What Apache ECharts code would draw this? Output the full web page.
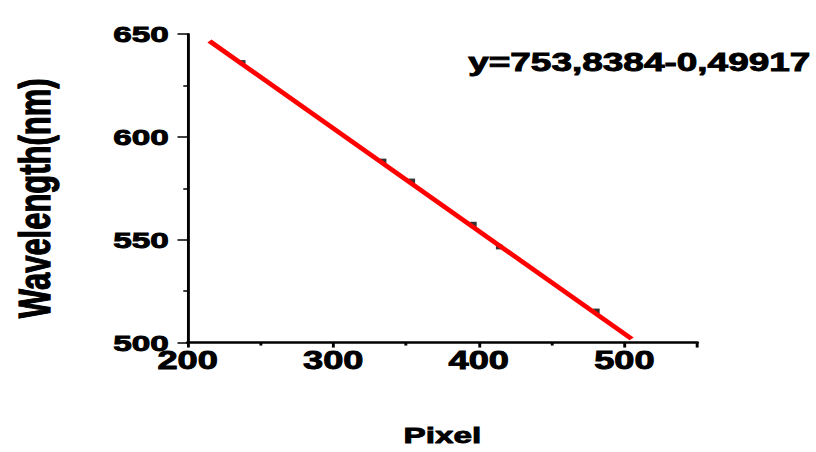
<!DOCTYPE html>
<html>
<head>
<meta charset="utf-8">
<script src="https://cdn.jsdelivr.net/npm/echarts@6/dist/echarts.min.js"></script>
<style>
  html, body { margin: 0; padding: 0; background: #fff; overflow: hidden; }
  #wrap { width: 816px; height: 452px; overflow: hidden; }
  /* the plot is laid out narrow and stretched horizontally */
  #chart { width: 563px; height: 452px; transform: scaleX(1.4494); transform-origin: 0 0; }
</style>
</head>
<body>
<div id="wrap"><div id="chart"></div></div>
<script>
// Calibration points: detector pixel vs. known wavelength (nm)
const pixels = [237.5, 334.3, 354.0, 396.3, 414.0, 480.8];
const wavelengths = [636.1, 588.2, 578.5, 557.5, 546.5, 515.3];

// Endpoints of the fitted straight line
const fitPixels = [215, 505];
const fitWavelengths = [646.6, 501.8];

const fitLabel = 'y=753,8384-0,49917';
const xTitle = 'Pixel';
const yTitle = 'Wavelength(nm)';

const FONT = '"Liberation Sans", Arial, Helvetica, sans-serif';
// heavy black lettering: bold face plus a thin outline of the same colour
const heavy = { fontFamily: FONT, fontWeight: 'bold', color: '#000', textBorderColor: '#000', textBorderWidth: 0.9 };

const chart = echarts.init(document.getElementById('chart'), null, { renderer: 'svg' });

chart.setOption({
  animation: false,
  backgroundColor: '#ffffff',
  grid: { left: 127, right: 82, top: 34, bottom: 105, containLabel: false },
  xAxis: {
    type: 'value',
    min: 200, max: 550, interval: 100,
    name: xTitle,
    nameLocation: 'middle',
    nameGap: 81,
    nameTextStyle: Object.assign({ fontSize: 23 }, heavy),
    axisLine: { show: true, onZero: false, lineStyle: { color: '#000', width: 2.5 } },
    axisTick: { show: true, inside: false, length: 5, lineStyle: { color: '#000', width: 2 } },
    minorTick: { show: true, splitNumber: 2, length: 3, lineStyle: { color: '#000', width: 2 } },
    axisLabel: Object.assign({ showMaxLabel: false, margin: 6, fontSize: 25 }, heavy),
    splitLine: { show: false }
  },
  yAxis: {
    type: 'value',
    min: 500, max: 650, interval: 50,
    name: yTitle,
    nameLocation: 'middle',
    nameGap: 90,
    nameTextStyle: Object.assign({ fontSize: 31, padding: [0, 20, 0, 0] }, heavy),
    axisLine: { show: true, onZero: false, lineStyle: { color: '#000', width: 2 } },
    axisTick: { show: true, inside: false, length: 7, lineStyle: { color: '#000', width: 1.5 } },
    minorTick: { show: true, splitNumber: 2, length: 3, lineStyle: { color: '#000', width: 1.5 } },
    axisLabel: Object.assign({ margin: 13, fontSize: 23 }, heavy),
    splitLine: { show: false }
  },
  graphic: [{
    type: 'text',
    x: 323,
    y: 62,
    style: {
      text: fitLabel,
      font: 'bold 25.5px ' + FONT,
      fill: '#000',
      stroke: '#000',
      lineWidth: 0.9,
      verticalAlign: 'middle',
      align: 'left'
    }
  }],
  series: [
    {
      type: 'scatter',
      data: pixels.map((p, i) => [p, wavelengths[i]]),
      symbol: 'rect',
      symbolSize: [4.5, 5],
      itemStyle: { color: '#000' },
      z: 2
    },
    {
      type: 'line',
      data: fitPixels.map((p, i) => [p, fitWavelengths[i]]),
      showSymbol: false,
      symbol: 'none',
      lineStyle: { color: '#ff0000', width: 4 },
      z: 3
    }
  ]
});
</script>
</body>
</html>
